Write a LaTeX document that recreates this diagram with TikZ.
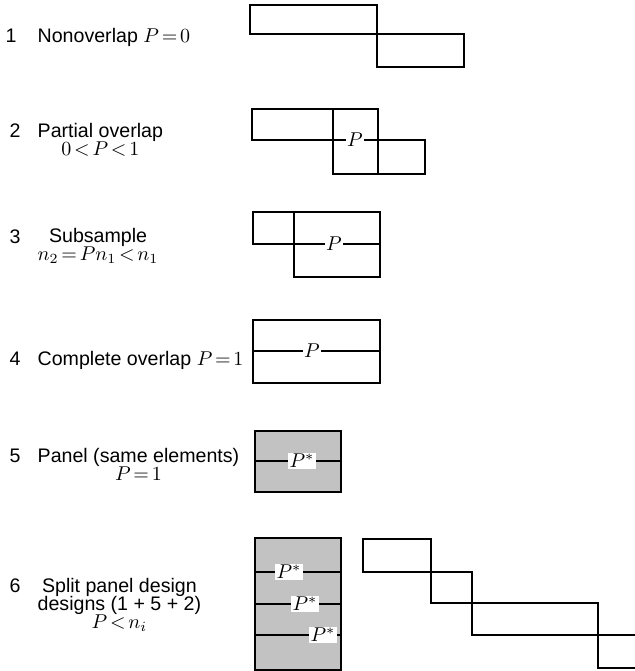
\documentclass[tikz,border=0pt]{standalone}
\usepackage{fontspec}
\setmainfont{Liberation Sans}
\newcommand\tightmath{\thickmuskip=2.5mu plus 1mu\relax\medmuskip=2mu\relax
  \lineskiplimit=-10pt\relax\lineskip=0pt\relax}
\begin{document}
\begin{tikzpicture}[x=0.5pt,y=-0.5pt,line width=0.7pt,
  box/.style={draw=black},
  shade/.style={draw=black,fill=black!24},
  plab/.style={fill=white,inner sep=0.8pt,font=\fontsize{10}{10}\selectfont},
  num/.style={anchor=base west,inner sep=0pt,font=\fontsize{9.8}{9}\selectfont},
  txt/.style={anchor=base west,inner sep=0pt,align=center,
    font=\fontsize{9.8}{9}\selectfont}]
\tightmath
\useasboundingbox (0,0) rectangle (635,671);
% labels
\node[num] (n1) at (5,42) {1};
\node[txt] (t1) at (37,42) {Nonoverlap $P=0$};
\node[num] (n2) at (9,137) {2};
\node[txt] (t2) at (37,155) {Partial overlap\\$0<P<1$};
\node[num] (n3) at (9,243) {3};
\node[txt] (t3) at (37,260) {Subsample\\$n_2=Pn_1<n_1$};
\node[num] (n4) at (9,365) {4};
\node[txt] (t4) at (37,365) {Complete overlap $P=1$};
\node[num] (n5) at (9,462) {5};
\node[txt] (t5) at (37,480) {Panel (same elements)\\$P=1$};
\node[num] (n6) at (9,592) {6};
\node[txt] (t6) at (37,628) {Split panel design\\designs (1 + 5 + 2)\\$P<n_i$};
% row 1
\draw[box] (250,5) rectangle (377,34);
\draw[box] (377,34) rectangle (464,67);
% row 2
\draw[box] (252,109) rectangle (378,140);
\draw[box] (333,140) rectangle (425,174);
\draw[box] (333,109) -- (333,140);
\draw[box] (378,140) -- (378,174);
\node[plab] (p2) at (355,140) {$P$};
% row 3
\draw[box] (253,212) rectangle (294,244);
\draw[box] (294,212) rectangle (380,277);
\draw[box] (294,244) -- (380,244);
\node[plab] (p3) at (334,244) {$P$};
% row 4
\draw[box] (253,320) rectangle (380,383);
\draw[box] (253,351) -- (380,351);
\node[plab] (p4) at (312,351) {$P$};
% row 5
\draw[shade] (255,431) rectangle (341,492);
\draw[box] (255,461) -- (341,461);
\node[plab] (p5) at (302,461) {$P^{*}$};
% row 6
\draw[shade] (255,538) rectangle (341,670);
\draw[box] (255,572) -- (341,572);
\draw[box] (255,604) -- (341,604);
\draw[box] (255,635) -- (341,635);
\node[plab] (p6a) at (289,572) {$P^{*}$};
\node[plab] (p6b) at (305,604) {$P^{*}$};
\node[plab] (p6c) at (323,635) {$P^{*}$};
% staircase
\draw[box] (363,539) rectangle (431,572);
\draw[box] (431,572) rectangle (472,603);
\draw[box] (472,603) rectangle (598,635);
\draw[box] (635,635) -- (598,635) -- (598,668) -- (635,668);
\end{tikzpicture}
\end{document}
